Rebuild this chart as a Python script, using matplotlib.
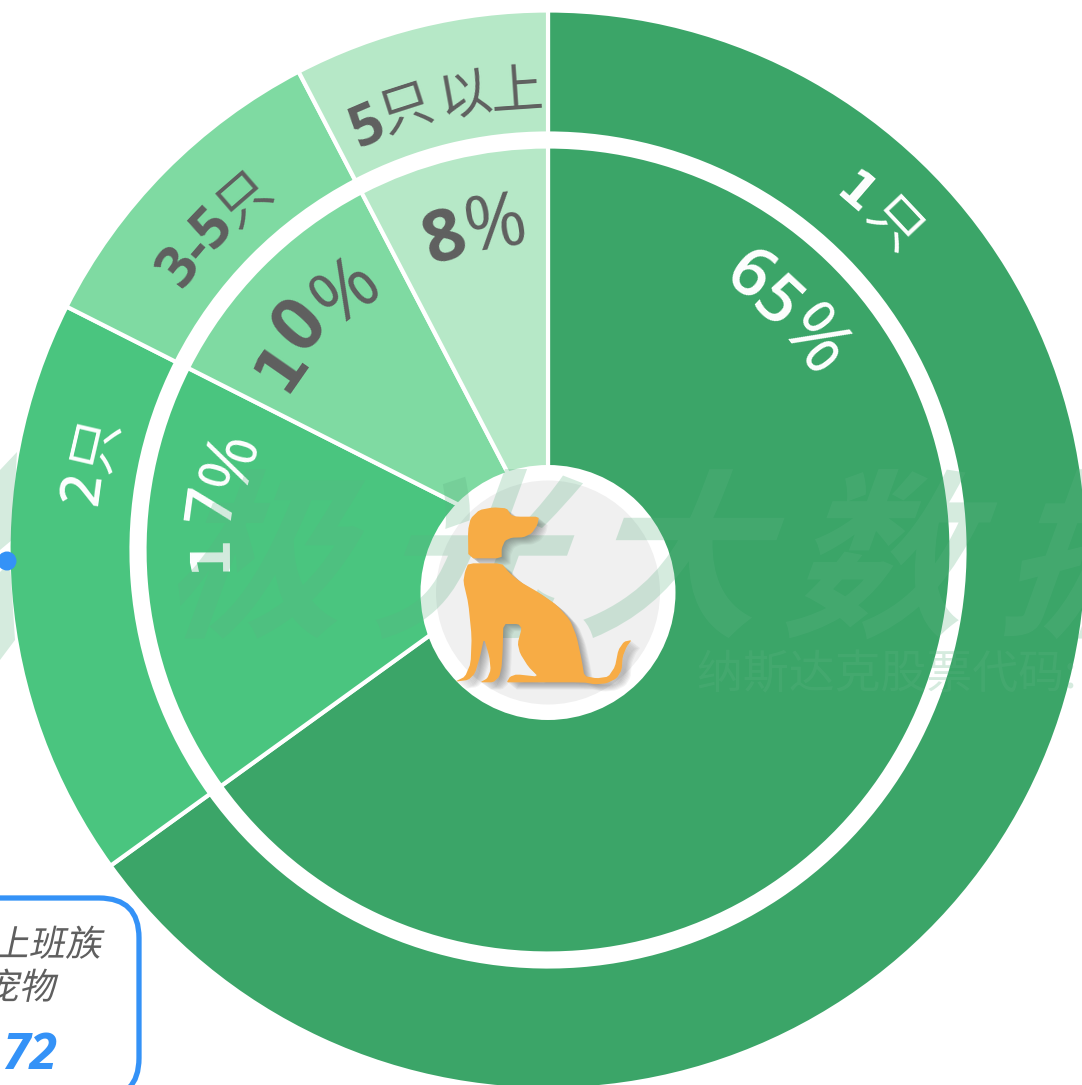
import numpy as np
import matplotlib
matplotlib.use('Agg')
import matplotlib.pyplot as plt
from matplotlib.patches import Circle, Polygon, FancyBboxPatch
from matplotlib.patheffects import AbstractPathEffect
from matplotlib.transforms import Affine2D

# data (slice shares, clockwise from the top)
categories = ['1只', '2只', '3-5只', '5只以上']
shares = [65.05, 17.4, 9.9, 7.65]
percent_labels = ['65%', '17%', '10%', '8%']
colors = ['#3BA568', '#4AC57F', '#7FDAA2', '#B6E8C7']

W, H = 1082, 1085
CX, CY = 548, H - 550
CJK = 'Noto Sans CJK SC'
LATIN = 'Open Sans'
SERIF_ONE = 'DejaVu Sans'  # the 1 in the picture has a foot
GRAY = '#5F5F5F'
BLUE = '#3492F7'


class Skew(AbstractPathEffect):
    # leans real text over, matplotlib has no oblique for the CJK fonts
    def __init__(self, x, y, deg):
        super().__init__()
        self.x, self.y, self.deg = x, y, deg

    def draw_path(self, renderer, gc, tpath, affine, rgbFace=None):
        lean = Affine2D().translate(-self.x, -self.y).skew_deg(self.deg, 0).translate(self.x, self.y)
        renderer.draw_path(gc, tpath, affine + lean, rgbFace)


def py(y):
    return H - y


def leaning(x, y, s, deg, **kw):
    # axes fill the figure and 1 data unit is 1 pixel, so data = display here
    ax.text(x, py(y), s, path_effects=[Skew(x, py(y), deg)], **kw)


def arc_char(ch, theta, r, size, color, weight='normal', family=LATIN):
    t = np.radians(theta)
    ax.text(CX + r * np.sin(t), CY + r * np.cos(t), ch, rotation=-theta, rotation_mode='anchor',
            ha='center', va='center', fontsize=size, color=color, fontweight=weight,
            family=family, zorder=4)


def smooth(pts):
    # one corner cutting pass so the traced outline is not faceted
    out = []
    for i, p in enumerate(pts):
        q = pts[(i + 1) % len(pts)]
        out.append((0.85 * p[0] + 0.15 * q[0], 0.85 * p[1] + 0.15 * q[1]))
        out.append((0.15 * p[0] + 0.85 * q[0], 0.15 * p[1] + 0.85 * q[1]))
    return out


fig = plt.figure(figsize=(W / 100, H / 100), dpi=100)
ax = fig.add_axes([0, 0, 1, 1])

wedge = dict(edgecolor='white', linewidth=3)
ax.pie(shares, colors=colors, radius=539.5, center=(CX, CY), startangle=90, counterclock=False,
       wedgeprops=dict(width=123, **wedge))
ax.pie(shares, colors=colors, radius=403.5, center=(CX, CY), startangle=90, counterclock=False,
       wedgeprops=wedge)
ax.set_xlim(0, W)
ax.set_ylim(0, H)
ax.set_aspect('equal')
ax.axis('off')

ax.add_patch(Circle((548, py(592.5)), 127.5, fc='white', ec='none', zorder=3))
ax.add_patch(Circle((548, py(592.5)), 112, fc='#F0F0F0', ec='none', zorder=3))

# ring labels, each glyph turned along its arc: (char, angle, radius, size, weight)
for ch, th, r, s, w in [('6', 36.3, 338, 49, 'semibold'), ('5', 42.8, 334, 49, 'semibold'),
                        ('%', 51.8, 336, 55, 'normal'), ('2', -82.4, 467, 40, 'semibold'),
                        ('7', -82.3, 336, 47, 'semibold'), ('%', -74.4, 328, 50, 'normal')]:
    arc_char(ch, th, r, s, 'white', w)
arc_char('1', 40.8, 469, 36, 'white', 'bold', SERIF_ONE)
arc_char('1', -90.3, 338, 40, 'white', 'bold', SERIF_ONE)
arc_char('只', 46.7, 474, 38, 'white', family=CJK)
arc_char('只', -76.9, 463, 38, 'white', family=CJK)

for ch, th, r, s, w in [('5', -23.2, 460, 41, 'bold'), ('3', -52.5, 463, 41, 'bold'),
                        ('-', -49.4, 461, 41, 'bold'), ('5', -46.2, 465, 41, 'bold'),
                        ('0', -47.8, 332, 53, 'bold'), ('%', -38, 326, 55, 'normal'),
                        ('8', -18.4, 327, 52, 'bold'), ('%', -9.3, 327, 54, 'normal')]:
    arc_char(ch, th, r, s, GRAY, w)
arc_char('1', -55.2, 324, 46, GRAY, 'bold', SERIF_ONE)
for ch, th, r in [('只', -17.8, 462), ('以', -10.3, 462), ('上', -3.9, 459), ('只', -40.9, 463)]:
    arc_char(ch, th, r, 38, GRAY, family=CJK)

# watermark goes over the rings and under the dog
mark = (93 / 255, 178 / 255, 131 / 255)
for ch, x in zip('极光大数据', [270, 480, 685, 890, 1105]):
    leaning(x, 570, ch, 20, fontsize=130, family=CJK, fontweight='bold', color=mark, alpha=0.26,
            ha='center', va='center', zorder=5)
ax.text(697, py(675), '纳斯达克股票代码: JG', fontsize=33, family=CJK, color=mark, alpha=0.26,
        ha='left', va='center', zorder=5)
for pts in ([(0, 470), (17, 452), (12, 540), (0, 550)], [(0, 572), (10, 562), (15, 640), (0, 660)]):
    ax.add_patch(Polygon([(x, py(y)) for x, y in pts], fc=mark, ec='none', alpha=0.26, zorder=1))

# dog icon, outline (3x crop at 400,450)
head = [(205, 325), (204, 240), (212, 205), (238, 180), (280, 172), (320, 175), (333, 195), (350, 200),
        (417, 200), (412, 225), (395, 250), (370, 262), (335, 263), (315, 272), (305, 295), (305, 325)]
body = [(205, 340), (305, 340), (325, 365), (360, 395), (420, 430), (470, 465), (510, 510), (530, 560),
        (545, 630), (553, 678), (590, 685), (625, 680), (645, 650), (655, 600), (672, 575), (695, 570),
        (680, 590), (668, 620), (665, 660), (650, 685), (620, 700), (585, 703), (550, 697), (340, 697),
        (320, 697), (330, 680), (350, 673), (415, 680), (385, 650), (360, 610), (353, 580), (365, 535),
        (355, 522), (310, 522), (308, 600), (305, 650), (298, 680), (280, 697), (240, 697), (262, 685),
        (272, 660), (268, 620), (252, 565), (240, 620), (225, 670), (205, 690), (165, 695), (195, 680),
        (212, 640), (215, 560), (205, 460), (190, 395), (195, 365)]
outlines = [[(400 + x / 3, py(450 + y / 3)) for x, y in smooth(o)] for o in (head, body)]
for pts in outlines:
    for off in range(1, 10):
        ax.add_patch(Polygon([(x + off, y - off * 0.8) for x, y in pts], fc='#303030', ec='none',
                             alpha=0.05, zorder=6))
for pts in outlines:
    ax.add_patch(Polygon(pts, fc='#F7AC45', ec='none', zorder=7))

ax.add_patch(Circle((7, py(561)), 9.5, fc=BLUE, ec='none', zorder=8))

# callout cut by the left and bottom edges
ax.add_patch(FancyBboxPatch((-60, py(1098)), 199, 200, boxstyle='round,pad=0,rounding_size=40',
                            fc='white', ec=BLUE, lw=3.8, zorder=8))
leaning(101, 956, '上班族', 12, fontsize=26, family=CJK, color=GRAY, ha='right', va='baseline', zorder=9)
leaning(55, 999, '宠物', 12, fontsize=26, family=CJK, color=GRAY, ha='right', va='baseline', zorder=9)
ax.text(57, py(1069), '72', fontsize=36, family='Open Sans', style='italic', fontweight='bold', color=BLUE,
        ha='right', va='baseline', zorder=9)

fig.savefig('out.png', dpi=100)
